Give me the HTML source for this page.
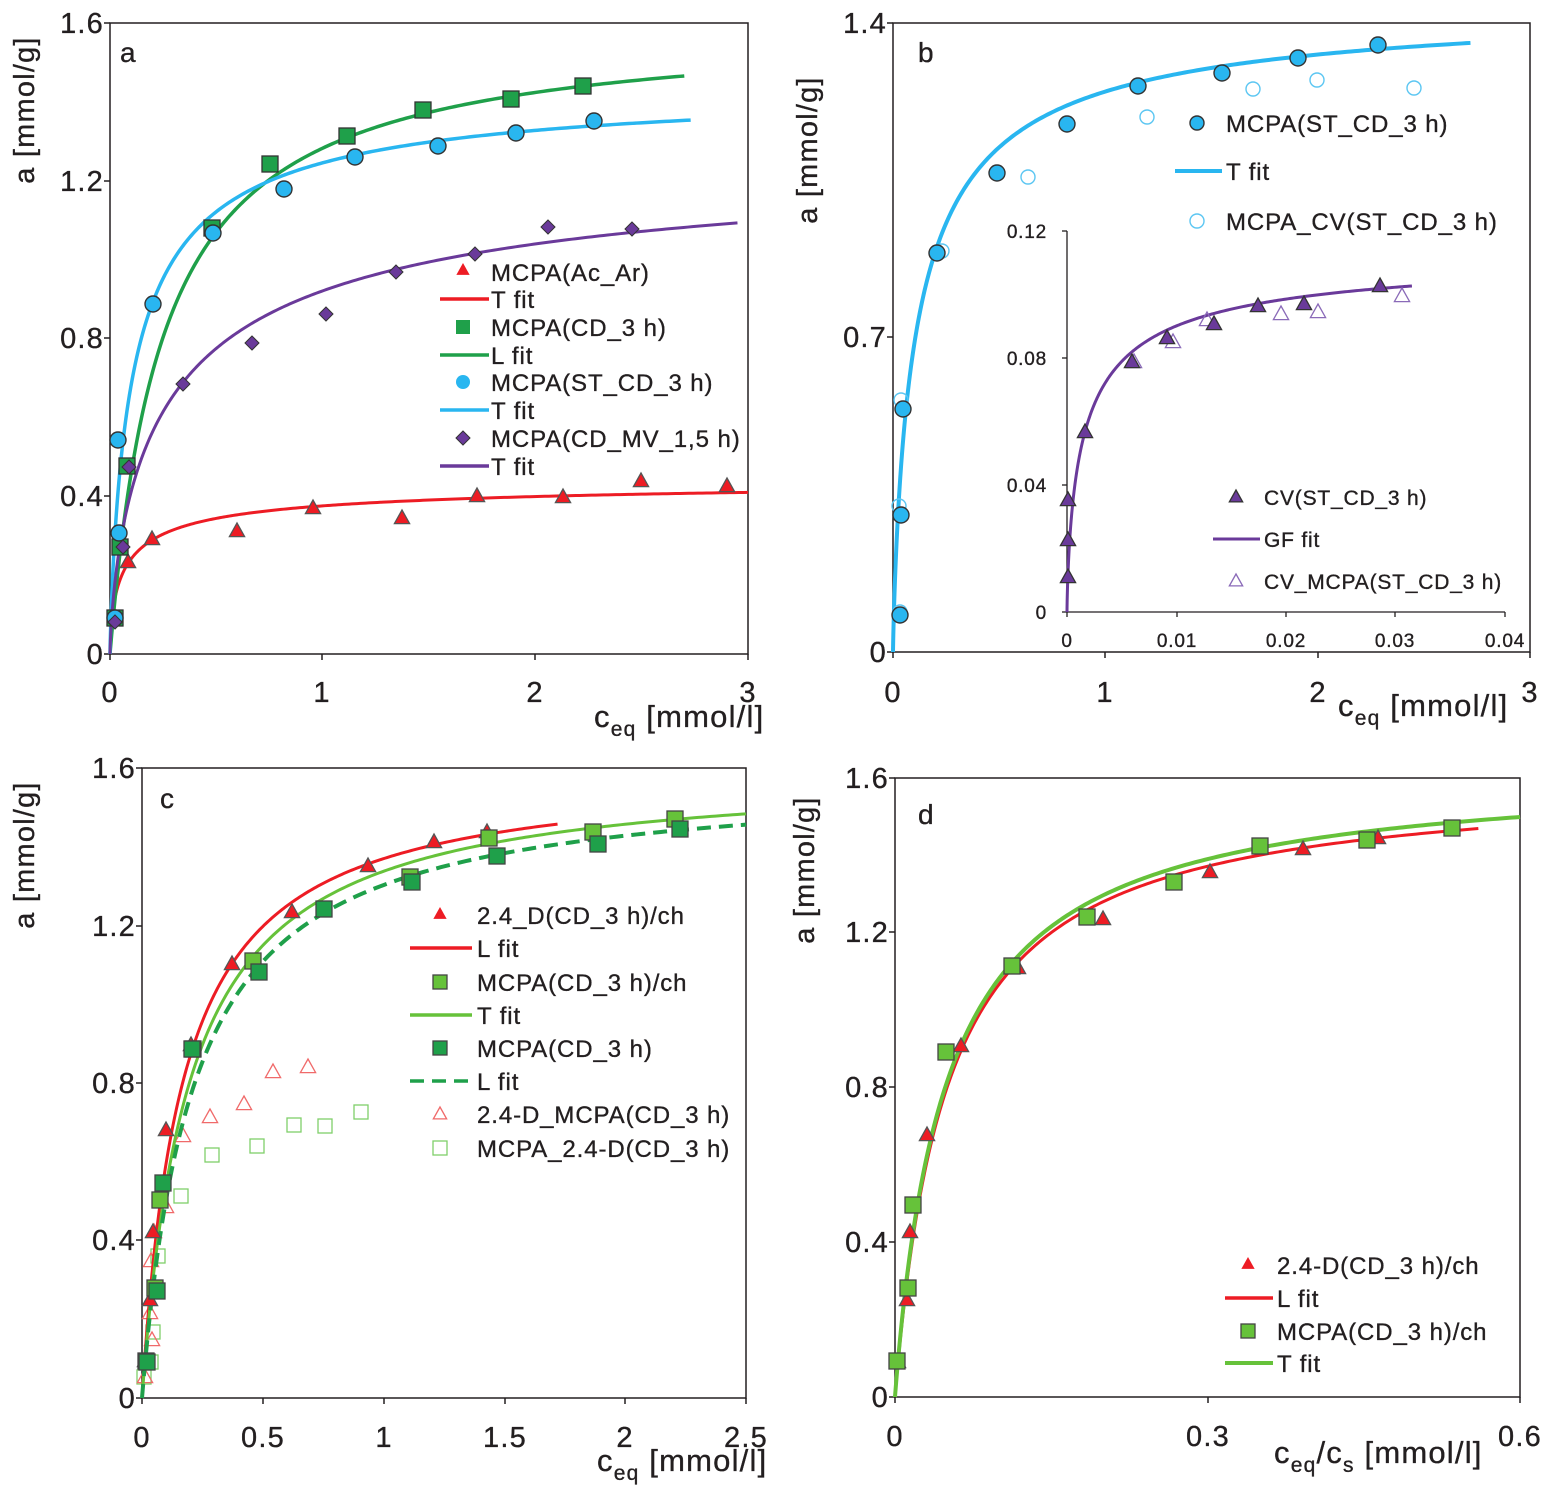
<!DOCTYPE html>
<html><head><meta charset="utf-8"><style>
html,body{margin:0;padding:0;background:#fff}
svg{display:block}
text{font-family:"Liberation Sans",Arial,sans-serif;fill:#231f20;stroke:#231f20;stroke-width:0.35}
</style></head><body>
<svg id="s" xmlns="http://www.w3.org/2000/svg" width="1552" height="1488" viewBox="0 0 1552 1488">
<rect width="1552" height="1488" fill="#fff"/>
<g id="g"></g>
</svg>
<script>
const NS="http://www.w3.org/2000/svg",G=document.getElementById('g');
function el(t,a,txt){const e=document.createElementNS(NS,t);for(const k in a)e.setAttribute(k,a[k]);if(txt!==undefined)e.textContent=txt;G.appendChild(e);return e;}
function txt(x,y,s,size,anchor,extra){const e=el('text',Object.assign({x:x,y:y,'font-size':size,'text-anchor':anchor||'start'},extra||{}));e.innerHTML=s;return e;}
const RED='#ed1c24',GRN='#1fa04a',LG='#66c23a',BLU='#29b6f0',PUR='#6a3a9a';
const LS={'letter-spacing':'1.2'};
function sips(qm,K,n){return c=>{const x=Math.pow(K*c,n);return qm*x/(1+x);}}
function curve(f,c0,c1,X,Y,col,w,dash){let d='';const N=300;for(let i=0;i<=N;i++){const c=c0+(c1-c0)*Math.pow(i/N,2.2);d+=(i?'L':'M')+X(c).toFixed(2)+' '+Y(f(c)).toFixed(2);}
 const a={d:d,fill:'none',stroke:col,'stroke-width':w||3.5};if(dash)a['stroke-dasharray']=dash;el('path',a);}
function tri(x,y,fill,stroke,r){r=r||8;el('polygon',{points:`${x},${y-r} ${x+r*0.95},${y+r*0.7} ${x-r*0.95},${y+r*0.7}`,fill:fill,stroke:stroke,'stroke-width':1.3});}
function sq(x,y,fill,stroke,r){r=r||8;el('rect',{x:x-r,y:y-r,width:2*r,height:2*r,fill:fill,stroke:stroke,'stroke-width':1.3});}
function circ(x,y,fill,stroke,r){el('circle',{cx:x,cy:y,r:r||8,fill:fill,stroke:stroke,'stroke-width':1.4});}
function dia(x,y,fill){const r=7;el('polygon',{points:`${x},${y-r} ${x+r},${y} ${x},${y+r} ${x-r},${y}`,fill:fill,stroke:'#333','stroke-width':1});}
function box(x0,y0,x1,y1){el('rect',{x:x0,y:y0,width:x1-x0,height:y1-y0,fill:'none',stroke:'#231f20','stroke-width':1.5});}
function yt(x,ys,labels,size){ys.forEach((y,i)=>{el('line',{x1:x-6,y1:y,x2:x,y2:y,stroke:'#231f20','stroke-width':1.5});txt(x-6,y+10,labels[i],size||29,'end',LS);});}
function xt(y,xs,labels,ly,size){xs.forEach((x,i)=>{el('line',{x1:x,y1:y,x2:x,y2:y+6,stroke:'#231f20','stroke-width':1.5});txt(x,ly,labels[i],size||29,'middle',LS);});}
function ylab(x,y,s){txt(0,0,s,29,'middle',Object.assign({transform:`translate(${x},${y}) rotate(-90)`},LS));}
const XL='c<tspan font-size="21" dy="9">eq</tspan><tspan dy="-9"> [mmol/l]</tspan>';

/* ---------- Panel a ---------- */
{const X=c=>110+c*212.7,Y=a=>654-a*394.4;
box(110,23,748,654);
yt(110,[654,496,338,181,23],['0','0.4','0.8','1.2','1.6']);
xt(654,[110,322,535,748],['0','1','2','3'],702);
ylab(34,110,'a [mmol/g]');
txt(594,727,XL,31,'start',LS);
txt(120,62,'a',28);
curve(sips(0.45,12.6,0.639),0,3,X,Y,RED,3);
curve(sips(1.6,4.04,1),0,2.7,X,Y,GRN,3.5);
curve(sips(1.45,8.72,0.834),0,2.73,X,Y,BLU,3.5);
curve(sips(1.3,3.44,0.718),0,2.95,X,Y,PUR,3);
[[115,618],[128,562],[152,539],[237,531],[313,508],[402,518],[477,496],[563,497],[641,481],[727,486]].forEach(p=>tri(p[0],p[1],RED,'#555'));
[[115,618],[120,547],[127,466],[212,228],[270,164],[347,136],[423,110],[511,99],[583,86]].forEach(p=>sq(p[0],p[1],GRN,'#333'));
[[115,618],[119,533],[118,440],[153,304],[213,233],[284,189],[355,157],[438,146],[516,133],[594,121]].forEach(p=>circ(p[0],p[1],BLU,'#333'));
[[115,622],[123,547],[129,467],[183,384],[252,343],[326,314],[396,272],[475,254],[548,227],[632,229]].forEach(p=>dia(p[0],p[1],PUR));
const L=[['m',272,'MCPA(Ac_Ar)',()=>tri(463,270,RED,'none',7)],['l',299,'T fit',RED],['m',327,'MCPA(CD_3 h)',()=>sq(463,327,GRN,'none',7)],['l',355,'L fit',GRN],['m',382,'MCPA(ST_CD_3 h)',()=>circ(463,382,BLU,'none',7)],['l',410,'T fit',BLU],['m',438,'MCPA(CD_MV_1,5 h)',()=>dia(463,438,PUR)],['l',466,'T fit',PUR]];
L.forEach(r=>{if(r[0]=='m')r[3]();else el('line',{x1:440,y1:r[1],x2:489,y2:r[1],stroke:r[3],'stroke-width':3.5});txt(491,r[1]+9,r[2],24,'start',{'letter-spacing':'0.9'});});
}
/* ---------- Panel b ---------- */
{const X=c=>893+c*212.3,Y=a=>652-a*450;
box(893,23,1530,652);
yt(893,[652,337,23],['0','0.7','1.4']);
xt(652,[893,1105,1318,1530],['0','1','2','3'],702);
ylab(817,150,'a [mmol/g]');
txt(1338,716,XL,31,'start',LS);
txt(918,62,'b',28);
curve(sips(1.45,8.72,0.834),0,2.72,X,Y,BLU,4);
[[900,612],[899,506],[901,400],[942,251],[1028,177],[1147,117],[1253,89],[1317,80],[1414,88]].forEach(p=>circ(p[0],p[1],'none','#5bc6f2',7));
[[900,615],[901,515],[903,409],[937,253],[997,173],[1067,124],[1138,86],[1222,73],[1298,58],[1378,45]].forEach(p=>circ(p[0],p[1],BLU,'#333'));
circ(1197,123,BLU,'#333',7);txt(1226,132,'MCPA(ST_CD_3 h)',24,'start',{'letter-spacing':'0.9'});
el('line',{x1:1175,y1:171,x2:1222,y2:171,stroke:BLU,'stroke-width':4});txt(1226,180,'T fit',24,'start',{'letter-spacing':'0.9'});
circ(1197,221,'none','#5bc6f2',7);txt(1226,230,'MCPA_CV(ST_CD_3 h)',24,'start',{'letter-spacing':'0.9'});
const IX=c=>1067+c*10950,IY=a=>612-a*3175;
el('line',{x1:1067,y1:231,x2:1067,y2:612,stroke:'#231f20','stroke-width':1.3});
el('line',{x1:1067,y1:612,x2:1505,y2:612,stroke:'#231f20','stroke-width':1.3});
[612,485,358,231].forEach((y,i)=>{el('line',{x1:1062,y1:y,x2:1067,y2:y,stroke:'#231f20','stroke-width':1.3});txt(1047,y+7,['0','0.04','0.08','0.12'][i],19,'end',{'letter-spacing':'0.8'});});
[1067,1177,1286,1395,1505].forEach((x,i)=>{el('line',{x1:x,y1:612,x2:x,y2:617,stroke:'#231f20','stroke-width':1.3});txt(x,647,['0','0.01','0.02','0.03','0.04'][i],19,'middle',{'letter-spacing':'0.8'});});
curve(sips(0.115,587,0.727),0,0.0315,IX,IY,PUR,3);
[[1134,362],[1173,342],[1207,320],[1281,314],[1318,312],[1402,296]].forEach(p=>tri(p[0],p[1],'none','#8a6ab8',8));
[[1068,577],[1068,540],[1068,500],[1085,432],[1132,362],[1167,338],[1214,324],[1258,306],[1304,304],[1380,286]].forEach(p=>tri(p[0],p[1],PUR,'#333',8));
tri(1236,497,PUR,'#333',7);txt(1264,505,'CV(ST_CD_3 h)',21,'start',{'letter-spacing':'0.8'});
el('line',{x1:1213,y1:539,x2:1260,y2:539,stroke:PUR,'stroke-width':3});txt(1264,547,'GF fit',21,'start',{'letter-spacing':'0.8'});
tri(1236,581,'none','#8a6ab8',7);txt(1264,589,'CV_MCPA(ST_CD_3 h)',21,'start',{'letter-spacing':'0.8'});
}
/* ---------- Panel c ---------- */
{const X=c=>142+c*241.6,Y=a=>1398-a*393.75;
box(142,768,746,1398);
yt(142,[1398,1240,1083,926,768],['0','0.4','0.8','1.2','1.6']);
xt(1398,[142,263,384,505,625,746],['0','0.5','1','1.5','2','2.5'],1447);
ylab(34,855,'a [mmol/g]');
txt(597,1471,XL,31,'start',LS);
txt(160,808,'c',28);
[[144,1377],[151,1362],[153,1332],[158,1256],[181,1196],[212,1155],[257,1146],[294,1125],[325,1126],[361,1112]].forEach(p=>sq(p[0],p[1],'none','#7fcf6a',7));
[[145,1377],[152,1340],[150,1313],[151,1261],[154,1232],[166,1207],[183,1136],[210,1117],[244,1104],[273,1072],[308,1067]].forEach(p=>tri(p[0],p[1],'none','#f06a6a',8));
curve(sips(1.6,5.95,1),0,1.72,X,Y,RED,3);
curve(sips(1.6,5.1,1),0,2.5,X,Y,LG,3);
curve(sips(1.58,4.7,1),0,2.5,X,Y,GRN,4,'14,8');
[[145,1361],[150,1300],[153,1232],[166,1130],[191,1045],[232,964],[292,912],[368,866],[434,842],[487,832]].forEach(p=>tri(p[0],p[1],RED,'#555'));
[[146,1361],[155,1288],[160,1200],[193,1049],[253,961],[410,877],[489,838],[593,832],[675,819]].forEach(p=>sq(p[0],p[1],LG,'#444'));
[[147,1362],[157,1291],[163,1183],[192,1049],[259,972],[324,909],[412,882],[497,856],[598,844],[680,829]].forEach(p=>sq(p[0],p[1],GRN,'#444'));
const L=[['m',915,'2.4_D(CD_3 h)/ch',()=>tri(440,914,RED,'none',7)],['l',948,'L fit',RED],['m',982,'MCPA(CD_3 h)/ch',()=>sq(440,982,LG,'#444',7)],['l',1015,'T fit',LG],['m',1048,'MCPA(CD_3 h)',()=>sq(440,1048,GRN,'#444',7)],['d',1081,'L fit',GRN],['m',1114,'2.4-D_MCPA(CD_3 h)',()=>tri(440,1114,'none','#f06a6a',7)],['m',1148,'MCPA_2.4-D(CD_3 h)',()=>sq(440,1148,'none','#7fcf6a',7)]];
L.forEach(r=>{if(r[0]=='m')r[3]();else{const a={x1:410,y1:r[1],x2:472,y2:r[1],stroke:r[3],'stroke-width':3.5};if(r[0]=='d')a['stroke-dasharray']='14,8';el('line',a);}txt(477,r[1]+9,r[2],24,'start',{'letter-spacing':'0.9'});});
}
/* ---------- Panel d ---------- */
{const X=c=>895+c*1041.7,Y=a=>1397-a*387;
box(895,778,1520,1397);
yt(895,[1397,1242,1087,932,778],['0','0.4','0.8','1.2','1.6']);
xt(1397,[895,1208,1520],['0','0.3','0.6'],1446);
ylab(814,870,'a [mmol/g]');
txt(1274,1463,'c<tspan font-size="21" dy="9">eq</tspan><tspan dy="-9">/c</tspan><tspan font-size="21" dy="9">s</tspan><tspan dy="-9"> [mmol/l]</tspan>',31,'start',LS);
txt(918,824,'d',28);
curve(sips(1.6,20,1),0,0.56,X,Y,RED,3);
curve(sips(1.63,20,0.98),0,0.6,X,Y,LG,4);
[[898,1362],[907,1300],[910,1232],[927,1135],[961,1046],[1018,968],[1103,919],[1210,872],[1303,849],[1378,838]].forEach(p=>tri(p[0],p[1],RED,'#555'));
[[897,1361],[908,1288],[913,1205],[946,1052],[1012,966],[1087,917],[1174,882],[1260,846],[1367,840],[1452,828]].forEach(p=>sq(p[0],p[1],LG,'#444'));
const F={'letter-spacing':'0.9'};
tri(1248,1264,RED,'none',7);txt(1277,1274,'2.4-D(CD_3 h)/ch',24,'start',F);
el('line',{x1:1225,y1:1298,x2:1273,y2:1298,stroke:RED,'stroke-width':3.5});txt(1277,1307,'L fit',24,'start',F);
sq(1248,1331,LG,'#444',7);txt(1277,1340,'MCPA(CD_3 h)/ch',24,'start',F);
el('line',{x1:1225,y1:1363,x2:1273,y2:1363,stroke:LG,'stroke-width':4});txt(1277,1372,'T fit',24,'start',F);
}
</script>
</body></html>
